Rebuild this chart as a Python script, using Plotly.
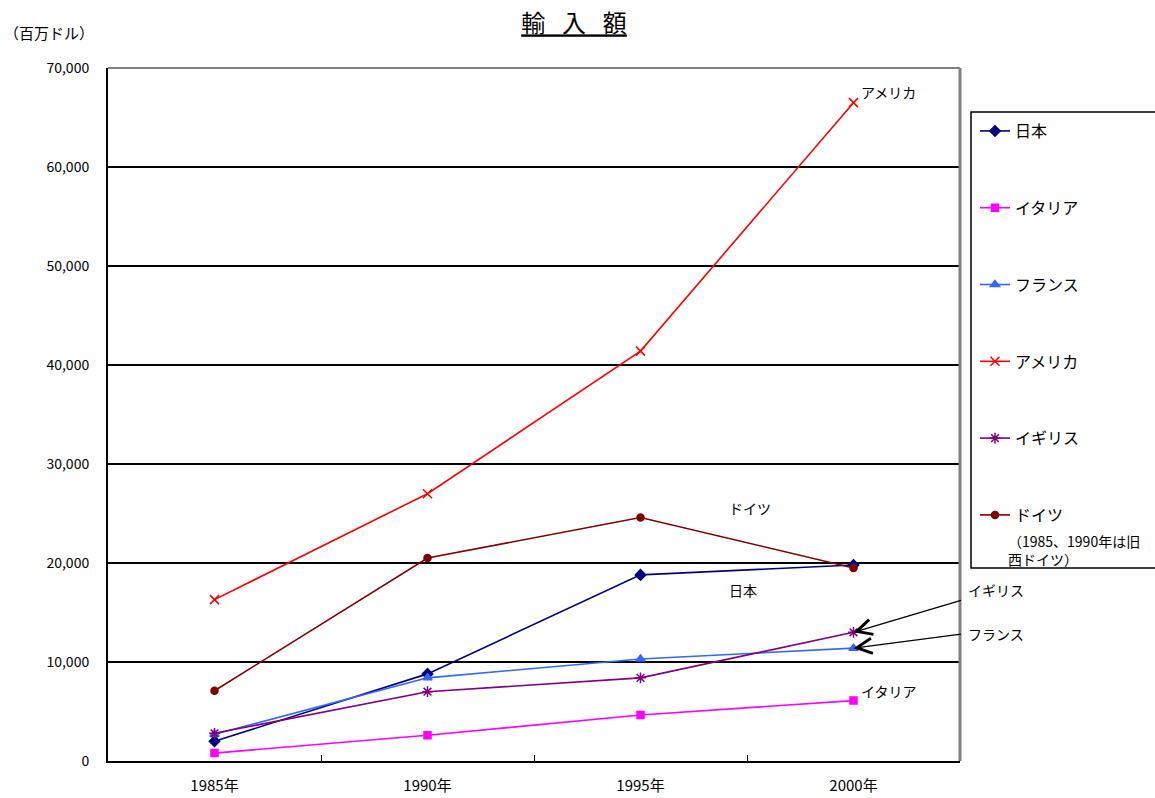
import plotly.graph_objects as go

years = ["1985年", "1990年", "1995年", "2000年"]

japan = [2000, 8800, 18800, 19800]
italy = [800, 2600, 4650, 6100]
france = [2700, 8400, 10300, 11400]
usa = [16300, 27000, 41400, 66500]
uk = [2800, 7000, 8400, 13000]
germany = [7100, 20500, 24600, 19500]

series = [
    ("日本", japan, "#000080", "diamond", 8),
    ("イタリア", italy, "#FF00FF", "square", 7),
    ("フランス", france, "#3366FF", "triangle-up", 8),
    ("アメリカ", usa, "#FF0000", "x-thin", 9),
    ("イギリス", uk, "#800080", "asterisk", 9),
    ("ドイツ", germany, "#800000", "circle", 7),
]

FONT = "Liberation Sans Narrow, Arial Narrow, Noto Sans CJK JP, sans-serif"
JFONT = "Noto Sans CJK JP, sans-serif"

W, H = 1155, 798
L, R, T, B = 108, 960, 68, 761


def px(xp):
    return (xp - L) / (R - L)


def py(yp):
    return (B - yp) / (B - T)


fig = go.Figure()
for i, (name, vals, color, sym, size) in enumerate(series):
    fig.add_trace(go.Scatter(
        x=years, y=vals, name=name, mode="lines+markers",
        legendgroup=f"g{i}",
        line=dict(color=color, width=1.6),
        marker=dict(symbol=sym, size=size, color=color,
                    line=dict(color=color, width=1.5)),
    ))

annotations = [
    dict(text="アメリカ", x=px(859), y=py(92), xanchor="left"),
    dict(text="ドイツ", x=px(727), y=py(508), xanchor="left"),
    dict(text="日本", x=px(727), y=py(590), xanchor="left"),
    dict(text="イタリア", x=px(859), y=py(691), xanchor="left"),
    dict(text="イギリス", x=px(966), y=py(590), xanchor="left"),
    dict(text="フランス", x=px(966), y=py(634), xanchor="left"),
    dict(text="（1985、1990年は旧<br>西ドイツ）", x=px(1006), y=py(550),
         xanchor="left", align="left"),
]
ann = []
for a in annotations:
    a.update(xref="paper", yref="paper", showarrow=False, yanchor="middle",
             font=dict(family=JFONT, size=14, color="black"))
    ann.append(a)

# leader arrows pointing at the 2000 values of イギリス and フランス
for val, tail in ((uk[3], (962, 600)), (france[3], (962, 634))):
    head_y = B - val / 70000 * (B - T)
    ann.append(dict(
        x=years[3], y=val, xref="x", yref="y", text="",
        showarrow=True, arrowhead=5, arrowsize=2.3, arrowwidth=1.3,
        arrowcolor="black", ax=tail[0] - 853, ay=tail[1] - head_y,
        standoff=0,
    ))

ann.append(dict(text="（百万ドル）", x=px(2), y=py(33), xref="paper",
                yref="paper", showarrow=False, xanchor="left",
                yanchor="middle",
                font=dict(family=JFONT, size=15, color="black")))

shapes = [
    # top and right frame of plot area
    dict(type="line", xref="paper", yref="paper", x0=0, x1=1, y0=1, y1=1,
         line=dict(color="#808080", width=2)),
    dict(type="line", xref="paper", yref="paper", x0=1, x1=1, y0=0, y1=1,
         line=dict(color="#808080", width=3)),
    # legend frame
    dict(type="rect", xref="paper", yref="paper", x0=px(971), x1=px(1170),
         y0=py(568), y1=py(112), line=dict(color="black", width=1.5)),
]

fig.update_layout(
    width=W, height=H,
    margin=dict(l=L, r=W - R, t=T, b=H - B),
    paper_bgcolor="white", plot_bgcolor="white",
    title=dict(text="<u>輸\u2002\u2009入\u2002\u2009額</u>", x=574 / W,
               xref="container", xanchor="center", y=1 - 24 / H,
               yref="container", yanchor="middle",
               font=dict(family=JFONT, size=24, color="black")),
    showlegend=True,
    legend=dict(x=px(975), y=py(114), xanchor="left", yanchor="top",
                xref="paper", yref="paper", tracegroupgap=53,
                font=dict(family=JFONT, size=16, color="black"),
                bgcolor="rgba(0,0,0,0)", itemwidth=30),
    annotations=ann,
    shapes=shapes,
    xaxis=dict(type="category", range=[-0.5, 3.5], automargin=False,
               showline=True, linecolor="black", linewidth=2,
               ticks="inside", tickson="boundaries", ticklen=6,
               tickcolor="black", showgrid=False,
               tickfont=dict(family=FONT, size=15, color="black"),
               ticklabelstandoff=10),
    yaxis=dict(range=[0, 70000], dtick=10000, tickformat=",d",
               automargin=False,
               showline=True, linecolor="black", linewidth=2,
               ticks="inside", ticklen=6, tickcolor="black",
               showgrid=True, gridcolor="black", gridwidth=1.5,
               zeroline=False,
               tickfont=dict(family=FONT, size=14, color="black"),
               ticklabelstandoff=14),
)

fig.write_html("out.html")
